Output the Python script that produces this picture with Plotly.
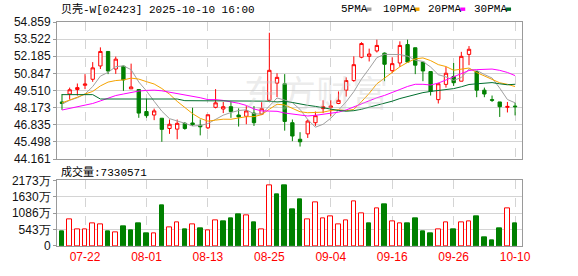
import plotly.graph_objects as go

# ---------------- data ----------------
dates = ["07-17", "07-18", "07-21", "07-22", "07-23", "07-24", "07-25", "07-28", "07-29", "07-30",
         "07-31", "08-01", "08-04", "08-05", "08-06", "08-07", "08-08", "08-11", "08-12", "08-13",
         "08-14", "08-15", "08-18", "08-19", "08-20", "08-21", "08-22", "08-25", "08-26", "08-27",
         "08-28", "08-29", "09-01", "09-02", "09-03", "09-04", "09-05", "09-08", "09-09", "09-10",
         "09-11", "09-12", "09-15", "09-16", "09-17", "09-18", "09-19", "09-22", "09-23", "09-24",
         "09-25", "09-26", "09-29", "09-30", "10-02", "10-03", "10-06", "10-08", "10-09", "10-10"]

opens = [48.62, 49.24, 49.59, 49.92, 50.39, 51.43, 52.56, 51.19, 51.41, 49.64,
         49.59, 47.87, 47.60, 47.35, 46.55, 46.50, 46.95, 46.98, 46.80, 46.60,
         48.20, 48.07, 48.25, 47.60, 47.50, 47.75, 47.67, 48.75, 50.09, 50.04,
         47.00, 45.71, 46.13, 47.00, 48.10, 48.20, 48.50, 49.54, 50.29, 52.11,
         52.18, 52.60, 52.43, 51.06, 51.66, 53.10, 52.85, 51.73, 50.99, 48.80,
         49.99, 50.61, 50.24, 52.33, 50.99, 49.54, 48.80, 48.62, 48.20, 48.30]
highs = [49.24, 49.74, 50.06, 50.79, 51.73, 52.88, 52.56, 52.16, 51.45, 51.61,
         49.59, 48.87, 48.10, 47.35, 47.25, 47.25, 47.05, 48.17, 47.25, 47.62,
         49.62, 48.62, 48.62, 48.12, 48.30, 48.30, 48.60, 54.02, 50.86, 50.79,
         47.25, 46.26, 47.25, 47.87, 48.75, 48.75, 49.44, 50.54, 52.18, 53.28,
         52.78, 53.48, 52.48, 52.11, 53.35, 53.48, 52.85, 51.73, 50.99, 50.12,
         51.36, 51.66, 52.53, 52.98, 50.99, 49.74, 49.12, 48.62, 48.62, 48.55]
lows = [48.00, 48.80, 49.12, 49.62, 50.19, 51.19, 50.79, 50.81, 49.49, 49.64,
        47.38, 47.38, 47.20, 45.51, 46.13, 45.71, 46.45, 46.75, 46.01, 46.50,
        48.12, 47.75, 47.38, 46.70, 46.88, 46.75, 47.60, 48.70, 49.00, 46.38,
        45.56, 45.14, 45.81, 46.75, 47.75, 47.50, 48.45, 49.04, 50.19, 52.03,
        51.78, 52.48, 50.24, 50.86, 51.36, 51.73, 50.79, 50.24, 49.12, 48.50,
        49.74, 49.87, 50.24, 51.49, 48.99, 48.99, 48.62, 47.45, 47.80, 47.57]
closes = [48.50, 49.57, 49.74, 50.02, 51.28, 52.56, 51.04, 51.96, 50.34, 49.79,
          47.75, 47.55, 47.92, 46.48, 46.88, 46.95, 46.55, 46.85, 46.68, 47.62,
          48.55, 48.25, 47.87, 47.45, 47.92, 47.00, 48.10, 51.09, 50.54, 47.10,
          45.96, 45.51, 47.13, 47.55, 48.25, 48.30, 48.75, 50.29, 51.53, 53.18,
          52.36, 53.03, 51.56, 51.61, 53.03, 51.73, 51.49, 51.04, 49.44, 50.04,
          50.86, 50.12, 52.18, 52.73, 49.54, 49.24, 48.75, 48.25, 48.27, 48.25]
prev_close_before = 48.90

# volume in 万股
volumes = [483, 882, 567, 535, 756, 724, 483, 441, 640, 504,
           735, 420, 420, 1333, 609, 787, 546, 724, 577, 504,
           850, 829, 924, 1050, 1008, 798, 567, 2016, 1712, 1995,
           1207, 1554, 882, 1449, 924, 987, 703, 850, 1480, 1071,
           735, 1239, 1365, 819, 756, 735, 924, 483, 420, 567,
           787, 546, 787, 819, 987, 294, 200, 577, 1239, 733]

# moving-average values read for the days whose window starts before the chart
ma5_head = [48.45, 48.75, 48.95, 49.24]
ma10_head = [48.55, 48.75, 48.99, 49.24, 49.44, 49.87, 50.17, 50.29, 50.34]
ma20_head = [47.99, 48.12, 48.25, 48.37, 48.50, 48.70, 48.92, 49.12, 49.24, 49.37,
             49.47, 49.52, 49.54, 49.49, 49.39, 49.29, 49.19, 49.10, 48.95]
ma30_head = [49.19, 49.19, 49.19, 49.19, 49.19, 48.85, 48.85, 48.85, 48.85, 48.85,
             48.85, 48.85, 48.85, 48.85, 48.85, 48.85, 48.72, 48.72, 48.72, 48.72,
             48.72, 48.72, 48.72, 48.72, 48.72, 48.72, 48.72, 48.68, 48.62]

price_ticks = [44.161, 45.498, 46.835, 48.173, 49.510, 50.847, 52.185, 53.522, 54.859]
vol_ticks = [0, 543, 1086, 1630, 2173]
vol_tick_text = ["0", "543万", "1086万", "1630万", "2173万"]
date_ticks = ["07-22", "08-01", "08-13", "08-25", "09-04", "09-16", "09-26", "10-10"]

title_text = "贝壳-W[02423] 2025-10-10 16:00"
vol_label = "成交量:7330571"
ma_names = ["5PMA", "10PMA", "20PMA", "30PMA"]

# ---------------- helpers ----------------
def moving_avg(vals, n, head):
    out = list(head)
    for i in range(len(head), len(vals)):
        out.append(sum(vals[i - n + 1:i + 1]) / n)
    return out

RED = "#ff0000"
GREEN = "#008000"
ma_colors = ["#a0a0a0", "#f5a300", "#ff00ff", "#006f2e"]
GRID = "#d4d4d4"
BORDER = "#9a9a9a"
MONO = "Liberation Mono, Noto Sans CJK SC, monospace"
SANS = "Liberation Sans, Arial, sans-serif"

xs = list(range(len(dates)))
mas = [moving_avg(closes, 5, ma5_head), moving_avg(closes, 10, ma10_head),
       moving_avg(closes, 20, ma20_head), moving_avg(closes, 30, ma30_head)]

prevs = [prev_close_before] + closes[:-1]
vol_up = [c >= p for c, p in zip(closes, prevs)]

fig = go.Figure()

for name, vals, col in zip(ma_names, mas, ma_colors):
    fig.add_trace(go.Scatter(x=xs, y=vals, mode="lines", name=name,
                             line=dict(color=col, width=1), showlegend=False,
                             hoverinfo="skip", xaxis="x", yaxis="y"))

fig.add_trace(go.Candlestick(
    x=xs, open=opens, high=highs, low=lows, close=closes,
    increasing=dict(line=dict(color=RED, width=1), fillcolor="white"),
    decreasing=dict(line=dict(color=GREEN, width=1), fillcolor=GREEN),
    whiskerwidth=0, showlegend=False, xaxis="x", yaxis="y"))

fig.add_trace(go.Bar(
    x=xs, y=volumes, width=0.6,
    marker=dict(color=["white" if u else GREEN for u in vol_up],
                line=dict(color=[RED if u else GREEN for u in vol_up], width=1)),
    showlegend=False, xaxis="x2", yaxis="y2"))

tickvals = [dates.index(d) for d in date_ticks]
xr = [-0.65, len(dates) - 1 + 0.9]

common_x = dict(range=xr, tickvals=tickvals, showgrid=True, gridcolor=GRID,
                griddash="dash", gridwidth=1, showline=True, mirror=True,
                linecolor=BORDER, linewidth=1, ticks="", zeroline=False,
                fixedrange=True)

fig.update_layout(
    width=578, height=276,
    margin=dict(l=55, r=56, t=22, b=22),
    paper_bgcolor="white", plot_bgcolor="white",
    boxgap=0.38,
    bargap=0,
    xaxis=dict(common_x, anchor="y", domain=[0, 1], showticklabels=False,
               rangeslider=dict(visible=False)),
    xaxis2=dict(common_x, anchor="y2", domain=[0, 1], ticktext=date_ticks,
                showticklabels=True, tickfont=dict(family=SANS, size=12, color=RED)),
    yaxis=dict(domain=[0.388, 1], range=[price_ticks[0], price_ticks[-1]],
               tickvals=price_ticks, ticktext=[f"{v:.3f}" for v in price_ticks],
               showgrid=True, gridcolor=GRID, gridwidth=1, showline=True, mirror=True,
               linecolor=BORDER, ticks="outside", ticklen=3, tickcolor=BORDER,
               tickfont=dict(family=SANS, size=12, color="#111"), zeroline=False),
    yaxis2=dict(domain=[0, 0.293], range=[0, vol_ticks[-1]],
                tickvals=vol_ticks, ticktext=vol_tick_text,
                showgrid=True, gridcolor=GRID, gridwidth=1, showline=True, mirror=True,
                linecolor=BORDER, ticks="outside", ticklen=3, tickcolor=BORDER,
                tickfont=dict(family=SANS, size=12, color="#111"), zeroline=False),
)

# title and volume label
fig.add_annotation(xref="paper", yref="paper", x=(57 - 55) / 467, y=(254 - 8.5) / 232,
                   xanchor="left", yanchor="middle", text=title_text, showarrow=False,
                   font=dict(family=MONO, size=11, color="#000"))
fig.add_annotation(xref="paper", yref="paper", x=(57 - 55) / 467, y=(254 - 177) / 232,
                   xanchor="left", yanchor="middle", text=vol_label, showarrow=False,
                   font=dict(family=MONO, size=11, color="#000"))

# MA legend
leg_x = [338, 380, 426, 472]
for name, col, lx in zip(ma_names, ma_colors, leg_x):
    fig.add_annotation(xref="paper", yref="paper", x=(lx - 55) / 467, y=(254 - 8.5) / 232,
                       xanchor="left", yanchor="middle", text=name, showarrow=False,
                       font=dict(family=MONO, size=11, color="#000"))
    tw = 6.2 * len(name)
    sx = lx + tw + 3
    fig.add_shape(type="rect", xref="paper", yref="paper",
                  x0=(sx - 55) / 467, x1=(sx + 5 - 55) / 467,
                  y0=(254 - 10.5) / 232, y1=(254 - 7) / 232,
                  fillcolor=col, line=dict(width=0))

# watermark
fig.add_annotation(xref="paper", yref="paper", x=(315 - 55) / 467, y=(254 - 93) / 232,
                   xanchor="center", yanchor="middle", text="东方财富", showarrow=False,
                   font=dict(family="Noto Sans CJK SC", size=36, color="rgba(200,200,200,0.35)"))

fig.write_html("out.html")
